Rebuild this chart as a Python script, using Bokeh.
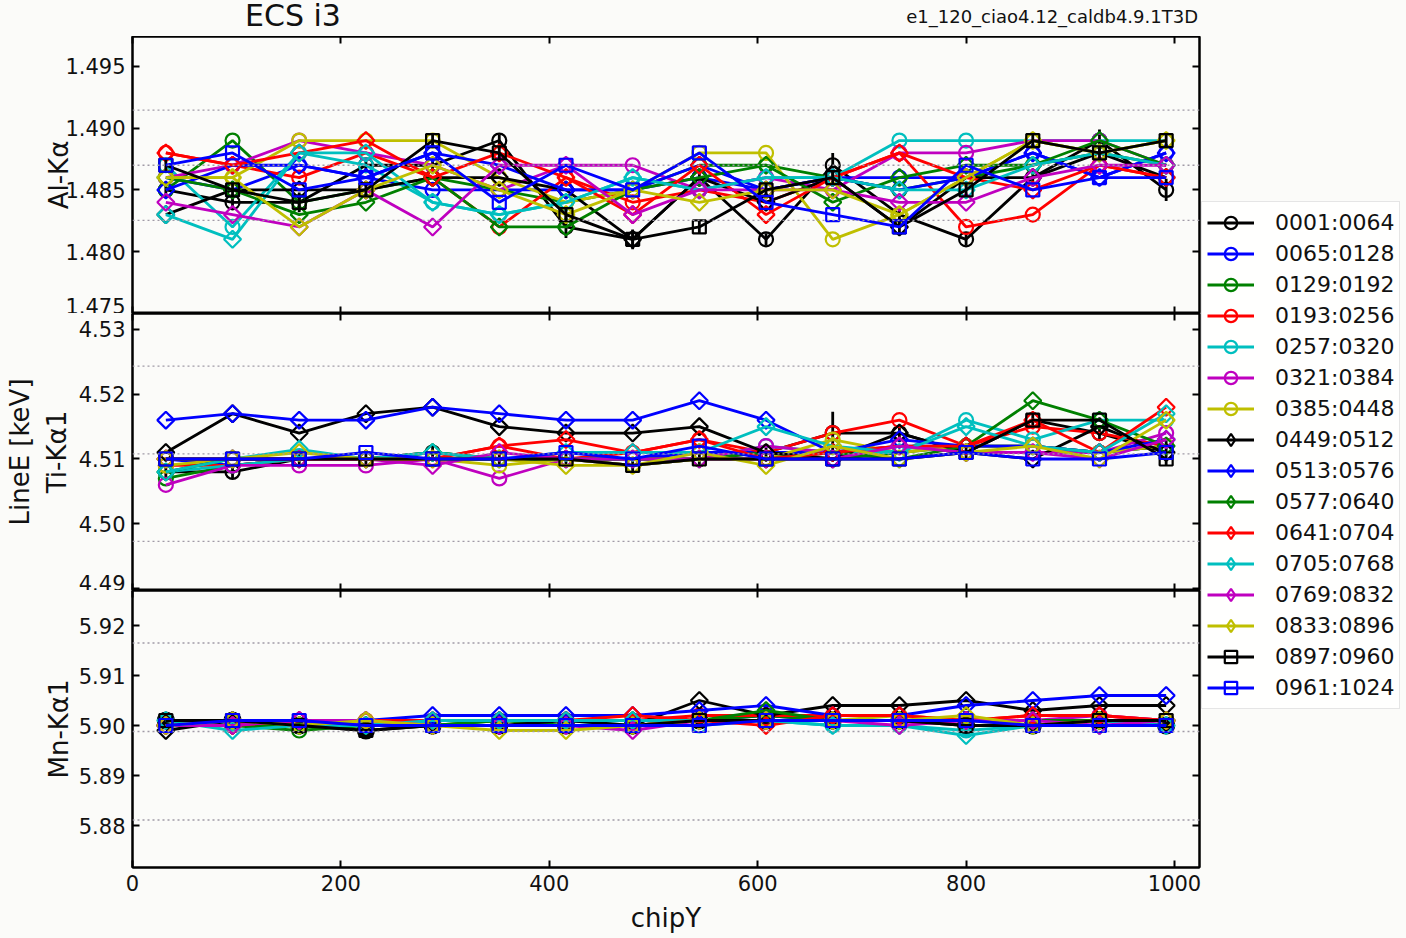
import numpy as np
from bokeh.plotting import figure
from bokeh.layouts import column, row
from bokeh.models import (Range1d, LinearAxis, FixedTicker, PrintfTickFormatter,
                          Span, Legend, LegendItem, Div)
from bokeh.embed import file_html
from bokeh.resources import INLINE

# ---------------- data ----------------
chipy = [32, 96, 160, 224, 288, 352, 416, 480, 544, 608, 672, 736, 800, 864, 928, 992]
series_labels = ["0001:0064", "0065:0128", "0129:0192", "0193:0256", "0257:0320",
                 "0321:0384", "0385:0448", "0449:0512", "0513:0576", "0577:0640",
                 "0641:0704", "0705:0768", "0769:0832", "0833:0896", "0897:0960",
                 "0961:1024"]
x_ticks = [0, 200, 400, 600, 800, 1000]

al_ka = [
    [1.485, 1.484, 1.484, 1.487, 1.487, 1.489, 1.482, 1.481, 1.486, 1.481, 1.487, 1.483, 1.481, 1.486, 1.489, 1.485],
    [1.486, 1.485, 1.487, 1.486, 1.485, 1.485, 1.485, 1.485, 1.486, 1.485, 1.486, 1.486, 1.486, 1.488, 1.486, 1.488],
    [1.485, 1.489, 1.484, 1.485, 1.486, 1.485, 1.484, 1.485, 1.487, 1.487, 1.486, 1.485, 1.486, 1.487, 1.488, 1.487],
    [1.488, 1.487, 1.486, 1.488, 1.486, 1.482, 1.486, 1.484, 1.485, 1.484, 1.486, 1.488, 1.482, 1.483, 1.487, 1.486],
    [1.487, 1.482, 1.488, 1.487, 1.484, 1.483, 1.484, 1.486, 1.485, 1.486, 1.486, 1.489, 1.489, 1.489, 1.489, 1.489],
    [1.486, 1.487, 1.489, 1.488, 1.487, 1.485, 1.487, 1.487, 1.485, 1.486, 1.485, 1.488, 1.488, 1.489, 1.489, 1.487],
    [1.486, 1.486, 1.489, 1.489, 1.489, 1.486, 1.484, 1.485, 1.488, 1.488, 1.481, 1.483, 1.486, 1.489, 1.488, 1.489],
    [1.483, 1.485, 1.485, 1.485, 1.486, 1.486, 1.485, 1.481, 1.486, 1.484, 1.486, 1.482, 1.486, 1.486, 1.488, 1.486],
    [1.485, 1.487, 1.487, 1.486, 1.488, 1.487, 1.485, 1.485, 1.487, 1.485, 1.486, 1.485, 1.486, 1.488, 1.486, 1.488],
    [1.486, 1.485, 1.483, 1.484, 1.486, 1.482, 1.482, 1.485, 1.486, 1.487, 1.484, 1.486, 1.487, 1.487, 1.489, 1.487],
    [1.488, 1.487, 1.488, 1.489, 1.486, 1.488, 1.486, 1.483, 1.487, 1.483, 1.486, 1.488, 1.486, 1.485, 1.487, 1.486],
    [1.483, 1.481, 1.488, 1.488, 1.484, 1.483, 1.484, 1.486, 1.485, 1.486, 1.486, 1.485, 1.485, 1.487, 1.488, 1.487],
    [1.484, 1.483, 1.482, 1.485, 1.482, 1.487, 1.487, 1.483, 1.485, 1.485, 1.485, 1.484, 1.484, 1.486, 1.487, 1.487],
    [1.486, 1.486, 1.482, 1.485, 1.487, 1.485, 1.483, 1.485, 1.484, 1.485, 1.485, 1.483, 1.486, 1.489, 1.488, 1.489],
    [1.487, 1.485, 1.484, 1.485, 1.489, 1.488, 1.483, 1.481, 1.482, 1.485, 1.486, 1.482, 1.485, 1.489, 1.488, 1.489],
    [1.487, 1.488, 1.485, 1.486, 1.488, 1.484, 1.487, 1.485, 1.488, 1.484, 1.483, 1.482, 1.487, 1.485, 1.486, 1.486],
]
# 1-sigma errors of the two black series in the Al panel (most hide inside the markers)
al_err_0001 = [0.0005, 0.0005, 0.0005, 0.0005, 0.0005, 0.0005, 0.0009, 0.0005,
               0.0005, 0.0005, 0.0010, 0.0005, 0.0005, 0.0005, 0.0009, 0.0009]
al_err_0897 = [0.0005, 0.0005, 0.0008, 0.0005, 0.0005, 0.0005, 0.0005, 0.0008,
               0.0005, 0.0005, 0.0005, 0.0005, 0.0005, 0.0005, 0.0005, 0.0005]

ti_ka1 = [
    [4.508, 4.508, 4.510, 4.510, 4.511, 4.510, 4.510, 4.509, 4.510, 4.511, 4.514, 4.514, 4.511, 4.516, 4.514, 4.511],
    [4.510, 4.509, 4.510, 4.510, 4.510, 4.510, 4.510, 4.510, 4.511, 4.511, 4.511, 4.512, 4.512, 4.512, 4.511, 4.512],
    [4.507, 4.509, 4.510, 4.510, 4.510, 4.510, 4.510, 4.510, 4.510, 4.511, 4.510, 4.511, 4.512, 4.512, 4.511, 4.512],
    [4.509, 4.509, 4.510, 4.510, 4.510, 4.512, 4.510, 4.511, 4.513, 4.511, 4.514, 4.516, 4.512, 4.515, 4.514, 4.512],
    [4.508, 4.509, 4.510, 4.510, 4.510, 4.510, 4.510, 4.510, 4.510, 4.512, 4.511, 4.511, 4.516, 4.513, 4.516, 4.516],
    [4.506, 4.509, 4.509, 4.509, 4.510, 4.507, 4.510, 4.510, 4.510, 4.512, 4.511, 4.512, 4.511, 4.511, 4.511, 4.514],
    [4.509, 4.510, 4.510, 4.510, 4.510, 4.509, 4.510, 4.509, 4.510, 4.510, 4.513, 4.511, 4.512, 4.512, 4.511, 4.512],
    [4.511, 4.517, 4.514, 4.517, 4.518, 4.515, 4.514, 4.514, 4.515, 4.511, 4.510, 4.514, 4.511, 4.510, 4.515, 4.511],
    [4.516, 4.517, 4.516, 4.516, 4.518, 4.517, 4.516, 4.516, 4.519, 4.516, 4.511, 4.513, 4.512, 4.512, 4.511, 4.513],
    [4.508, 4.510, 4.510, 4.510, 4.511, 4.510, 4.510, 4.510, 4.510, 4.510, 4.511, 4.510, 4.512, 4.519, 4.516, 4.512],
    [4.510, 4.510, 4.510, 4.510, 4.510, 4.512, 4.513, 4.511, 4.513, 4.510, 4.511, 4.512, 4.512, 4.516, 4.511, 4.518],
    [4.508, 4.510, 4.5115, 4.510, 4.511, 4.510, 4.511, 4.511, 4.511, 4.515, 4.512, 4.511, 4.515, 4.512, 4.511, 4.517],
    [4.510, 4.510, 4.510, 4.510, 4.509, 4.511, 4.510, 4.510, 4.510, 4.510, 4.510, 4.512, 4.511, 4.511, 4.510, 4.513],
    [4.510, 4.510, 4.511, 4.510, 4.510, 4.510, 4.509, 4.509, 4.511, 4.509, 4.512, 4.510, 4.511, 4.512, 4.510, 4.516],
    [4.510, 4.510, 4.510, 4.510, 4.510, 4.510, 4.510, 4.509, 4.510, 4.510, 4.510, 4.510, 4.511, 4.516, 4.516, 4.510],
    [4.510, 4.510, 4.510, 4.511, 4.510, 4.510, 4.511, 4.510, 4.512, 4.510, 4.510, 4.510, 4.511, 4.510, 4.510, 4.511],
]
ti_err_0001 = [0.0012, 0.0010, 0.0010, 0.0010, 0.0010, 0.0010, 0.0010, 0.0010,
               0.0010, 0.0010, 0.0033, 0.0010, 0.0010, 0.0010, 0.0010, 0.0020]

mn_ka1 = [
    [5.901, 5.901, 5.900, 5.899, 5.900, 5.900, 5.900, 5.900, 5.901, 5.901, 5.901, 5.901, 5.900, 5.900, 5.901, 5.900],
    [5.901, 5.901, 5.901, 5.900, 5.901, 5.901, 5.901, 5.901, 5.901, 5.902, 5.901, 5.901, 5.901, 5.901, 5.901, 5.901],
    [5.900, 5.900, 5.899, 5.900, 5.900, 5.901, 5.900, 5.900, 5.901, 5.902, 5.901, 5.901, 5.901, 5.901, 5.901, 5.901],
    [5.900, 5.900, 5.901, 5.901, 5.901, 5.901, 5.901, 5.901, 5.902, 5.902, 5.902, 5.902, 5.901, 5.902, 5.902, 5.901],
    [5.901, 5.900, 5.900, 5.900, 5.901, 5.901, 5.901, 5.900, 5.900, 5.901, 5.900, 5.900, 5.899, 5.900, 5.901, 5.900],
    [5.900, 5.900, 5.901, 5.900, 5.900, 5.900, 5.900, 5.900, 5.901, 5.901, 5.901, 5.901, 5.901, 5.901, 5.902, 5.901],
    [5.900, 5.901, 5.900, 5.901, 5.900, 5.900, 5.900, 5.900, 5.901, 5.901, 5.901, 5.902, 5.901, 5.900, 5.901, 5.901],
    [5.899, 5.901, 5.900, 5.900, 5.900, 5.900, 5.901, 5.900, 5.905, 5.902, 5.904, 5.904, 5.905, 5.903, 5.904, 5.904],
    [5.900, 5.901, 5.901, 5.901, 5.902, 5.902, 5.902, 5.902, 5.903, 5.904, 5.902, 5.902, 5.904, 5.905, 5.906, 5.906],
    [5.900, 5.900, 5.900, 5.900, 5.900, 5.901, 5.901, 5.901, 5.901, 5.903, 5.901, 5.901, 5.901, 5.901, 5.901, 5.901],
    [5.900, 5.900, 5.901, 5.901, 5.901, 5.901, 5.901, 5.902, 5.901, 5.900, 5.902, 5.902, 5.901, 5.902, 5.902, 5.901],
    [5.901, 5.899, 5.900, 5.900, 5.901, 5.901, 5.901, 5.901, 5.901, 5.901, 5.900, 5.900, 5.898, 5.900, 5.900, 5.900],
    [5.900, 5.900, 5.901, 5.901, 5.900, 5.900, 5.900, 5.899, 5.901, 5.901, 5.901, 5.900, 5.901, 5.901, 5.900, 5.901],
    [5.900, 5.901, 5.900, 5.901, 5.900, 5.899, 5.899, 5.900, 5.901, 5.901, 5.901, 5.901, 5.902, 5.900, 5.901, 5.901],
    [5.901, 5.901, 5.900, 5.899, 5.900, 5.900, 5.900, 5.900, 5.901, 5.901, 5.901, 5.901, 5.900, 5.900, 5.901, 5.901],
    [5.900, 5.901, 5.901, 5.900, 5.900, 5.900, 5.900, 5.900, 5.900, 5.901, 5.901, 5.901, 5.901, 5.900, 5.900, 5.900],
]

line_names = ["Al-K\u03b1", "Ti-K\u03b11", "Mn-K\u03b11"]
line_energy = [1.4870, 4.5108, 5.8988]     # nominal line energies [keV]
tolerance = 0.003                           # +/- 0.3 % band
y_limits = [(1.47499, 1.49743), (4.48969, 4.53247), (5.8716, 5.9270)]
y_ticks = [[1.475, 1.480, 1.485, 1.490, 1.495],
           [4.49, 4.50, 4.51, 4.52, 4.53],
           [5.88, 5.89, 5.90, 5.91, 5.92]]
y_fmt = ["%.3f", "%.2f", "%.2f"]
all_data = [al_ka, ti_ka1, mn_ka1]
# (panel, series index, errors)
error_sets = [(0, 0, al_err_0001), (0, 14, al_err_0897), (1, 0, ti_err_0001)]
title_text = "ECS i3"
subtitle_text = "e1_120_ciao4.12_caldb4.9.1T3D"

# ---------------- style ----------------
FONT = "DejaVu Sans"
BG = "#fbfbf9"
TXT = "#111111"
palette = ["black", "#0000ff", "#008000", "#ff0000", "#00bfbf", "#bf00bf", "#bfbf00"]
colors = [palette[i % 7] for i in range(16)]
markers = ["circle"] * 7 + ["square"] * 7 + ["square"] * 2
legend_markers = ["circle"] * 7 + ["diamond"] * 7 + ["square"] * 2
angles = [0.0] * 7 + [np.pi / 4] * 7 + [0.0] * 2
sizes = [14] * 7 + [12] * 7 + [13] * 2
LINE_W = 2.8
MARK_W = 2.2

LEFT = 132
RIGHT = 2
FRAME_W = 1067
FRAME_H = 277
W = LEFT + FRAME_W + RIGHT
BOTTOM = 70
heights = [FRAME_H, FRAME_H, FRAME_H + BOTTOM]
bottoms = [0, 0, BOTTOM]
ylabel_standoff = [-12, 4, 2]
TOP_H = 36

x_range = Range1d(0, 1024)


def style_axis(ax, show_labels):
    ax.major_tick_in = 7
    ax.major_tick_out = 0
    ax.minor_tick_in = 0
    ax.minor_tick_out = 0
    ax.axis_line_color = "black"
    ax.axis_line_width = 2
    ax.major_tick_line_color = "black"
    ax.major_tick_line_width = 2
    if show_labels:
        ax.major_label_text_font = FONT
        ax.major_label_text_font_size = "21px"
        ax.major_label_text_color = TXT
        ax.major_label_standoff = 7
    else:
        ax.major_label_text_font_size = "0px"
        ax.major_label_text_color = None
        ax.major_label_standoff = 0


figs = []
for k in range(3):
    p = figure(width=W, height=heights[k], x_range=x_range,
               y_range=Range1d(*y_limits[k]),
               output_backend="svg", toolbar_location=None,
               x_axis_location=None, y_axis_location=None,
               min_border_left=LEFT, min_border_right=RIGHT,
               min_border_top=0, min_border_bottom=bottoms[k],
               background_fill_color=BG, border_fill_color=BG,
               outline_line_color="black", outline_line_width=2)
    p.grid.visible = False

    # axes: ticks pointing inward on all four sides
    xb = LinearAxis(ticker=FixedTicker(ticks=x_ticks),
                    formatter=PrintfTickFormatter(format="%d"))
    style_axis(xb, k == 2)
    if k == 2:
        xb.axis_label = "chipY"
        xb.axis_label_text_font = FONT
        xb.axis_label_text_font_size = "26px"
        xb.axis_label_text_font_style = "normal"
        xb.axis_label_text_color = TXT
        xb.axis_label_standoff = 9
    p.add_layout(xb, "below")
    xt = LinearAxis(ticker=FixedTicker(ticks=x_ticks))
    style_axis(xt, False)
    p.add_layout(xt, "above")

    yl = LinearAxis(ticker=FixedTicker(ticks=y_ticks[k]),
                    formatter=PrintfTickFormatter(format=y_fmt[k]))
    style_axis(yl, True)
    yl.axis_label = line_names[k]
    yl.axis_label_text_font = FONT
    yl.axis_label_text_font_size = "26px"
    yl.axis_label_text_font_style = "normal"
    yl.axis_label_text_color = TXT
    yl.axis_label_standoff = ylabel_standoff[k]
    p.add_layout(yl, "left")
    if k == 1:
        # overall quantity label, shared by the three panels
        yo = LinearAxis(ticker=FixedTicker(ticks=[]), axis_label="LineE [keV]")
        yo.axis_line_color = None
        yo.major_tick_line_color = None
        yo.minor_tick_line_color = None
        yo.major_label_text_font_size = "0px"
        yo.major_label_text_color = None
        yo.major_label_standoff = 0
        yo.axis_label_text_font = FONT
        yo.axis_label_text_font_size = "26px"
        yo.axis_label_text_font_style = "normal"
        yo.axis_label_text_color = TXT
        yo.axis_label_standoff = 4
        p.add_layout(yo, "left")
    yr = LinearAxis(ticker=FixedTicker(ticks=y_ticks[k]))
    style_axis(yr, False)
    p.add_layout(yr, "right")

    # dotted reference lines: nominal energy and +/- 0.3 %
    e0 = line_energy[k]
    for v in (e0 * (1 + tolerance), e0, e0 * (1 - tolerance)):
        p.add_layout(Span(location=v, dimension="width", line_color="#a09aa6",
                          line_dash="2 3", line_width=1.3))

    data = all_data[k]
    errs = {i: e for (kk, i, e) in error_sets if kk == k}
    for i in range(16):
        p.line(chipy, data[i], line_color=colors[i], line_width=LINE_W)
        if i in errs:
            lo = [v - e for v, e in zip(data[i], errs[i])]
            hi = [v + e for v, e in zip(data[i], errs[i])]
            p.segment(x0=chipy, y0=lo, x1=chipy, y1=hi,
                      line_color=colors[i], line_width=LINE_W)
        fill = "black" if (k == 2 and i == 0) else None
        p.scatter(chipy, data[i], marker=markers[i], size=sizes[i] + (2 if fill else 0),
                  angle=angles[i], line_color=colors[i], line_width=MARK_W,
                  fill_color=fill)
    figs.append(p)

# title strip (two texts on one line)
title_html = (
    '<div style="position:relative;width:%dpx;height:%dpx;font-family:\'DejaVu Sans\';color:%s;">'
    '<span style="position:absolute;left:293px;top:1px;transform:translateX(-50%%);'
    'font-size:30px;line-height:30px;white-space:nowrap;">%s</span>'
    '<span style="position:absolute;right:%dpx;top:8px;font-size:18px;line-height:18px;'
    'white-space:nowrap;">%s</span></div>'
    % (1406, TOP_H, TXT, title_text, 1406 - 1198, subtitle_text))
top_div = Div(text=title_html, width=1406, height=TOP_H, margin=0,
              styles={"background-color": BG})

# legend in its own narrow figure to the right
H = sum(heights)
LW = 1406 - W
lf = figure(width=LW, height=H, x_range=Range1d(-2, -1), y_range=Range1d(-2, -1),
            output_backend="svg", toolbar_location=None,
            x_axis_location=None, y_axis_location=None, min_border=0,
            outline_line_color=None, background_fill_color=BG, border_fill_color=BG)
lf.grid.visible = False
items = []
for i in range(16):
    lr = lf.line(chipy, al_ka[i], line_color=colors[i], line_width=LINE_W)
    sr = lf.scatter(chipy, al_ka[i], marker=legend_markers[i], size=sizes[i],
                    line_color=colors[i], line_width=MARK_W, fill_color=None)
    items.append(LegendItem(label=series_labels[i], renderers=[lr, sr]))

PAD = 5
ROW = 31
leg_top = 203 - TOP_H
leg_h = 2 * PAD + 16 * ROW
legend = Legend(items=items, location=(0, H - leg_top - leg_h),
                label_text_font=FONT, label_text_font_size="22px",
                label_text_color=TXT,
                glyph_width=47, glyph_height=ROW, label_height=ROW,
                spacing=0, padding=PAD, margin=0, label_standoff=21,
                border_line_color="#cccccc", border_line_width=1,
                background_fill_color="#ffffff", background_fill_alpha=0.85)
lf.add_layout(legend)

layout = column(top_div, row(column(*figs), lf))
html = file_html(layout, INLINE, title="ECS i3")
html = html.replace("</head>",
                    "<style>html, body { background-color: %s; }</style></head>" % BG, 1)
open("out.html", "w").write(html)
